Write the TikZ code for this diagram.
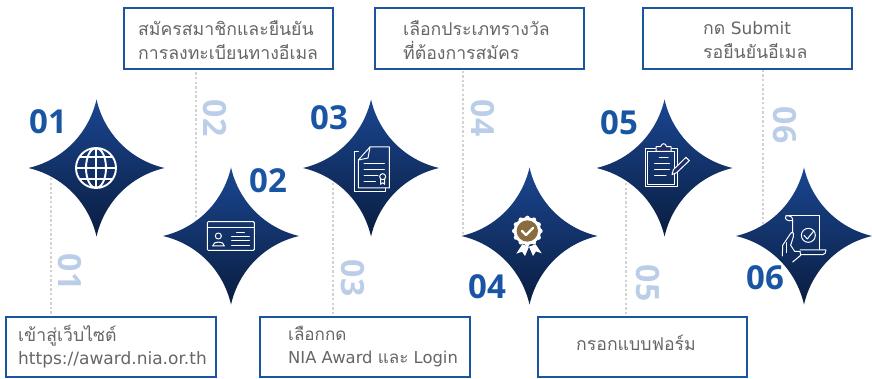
\documentclass[tikz,border=0pt]{standalone}
\usepackage{fontspec}
\setmainfont{DejaVu Sans}
\newfontfamily\thaifont[Script=Thai,Scale=1.04]{Loma}
\newfontfamily\numfont{Open Sans}
\usetikzlibrary{calc}
\definecolor{navy}{HTML}{1A55A3}
\definecolor{boxedge}{HTML}{1B559F}
\definecolor{fade}{HTML}{BBCEE8}
\definecolor{dotcol}{HTML}{D2D2D2}
\definecolor{ink}{HTML}{666666}
\definecolor{gold}{HTML}{8A6D3F}
\definecolor{startop}{HTML}{1A4690}
\definecolor{starmid}{HTML}{1F2C68}
\definecolor{starbot}{HTML}{0A1D40}
\tikzset{
  x=1pt,y=-1pt,
  boxst/.style={draw=boxedge,line width=2.4pt,fill=white,inner sep=0pt,anchor=north west},
  txt/.style={text=ink,align=left,inner sep=0pt,font=\fontsize{17}{23.5}\selectfont},
  bignum/.style={text=navy,inner sep=0pt,font=\numfont\bfseries\fontsize{33}{33}\selectfont},
  sidenum/.style={text=fade,inner sep=0pt,rotate=-90,font=\numfont\bfseries\fontsize{32}{32}\selectfont},
  dotline/.style={draw=dotcol,line width=2pt,dash pattern=on 2.4pt off 2.2pt},
  ic/.style={draw=white,line width=1pt,line join=round,line cap=round},
  icon/.style={x=0.3333pt,y=-0.3333pt},
  gemstar/.pic={
    \shade[top color=startop,middle color=starmid,bottom color=starbot]
      (0,-68.5) .. controls (8,-34) and (34,-8) .. (68,0)
      .. controls (34,8) and (8,34) .. (0,68.5)
      .. controls (-8,34) and (-34,8) .. (-68,0)
      .. controls (-34,-8) and (-8,-34) .. (0,-68.5) -- cycle;
  }
}
\begin{document}
\begin{tikzpicture}
\useasboundingbox (0,0) rectangle (872,379);
% boxes
\node[boxst,minimum width=210pt,minimum height=60pt] (b1) at (5,316) {};
\node[boxst,minimum width=209pt,minimum height=61pt] (b2) at (123,7) {};
\node[boxst,minimum width=210pt,minimum height=60pt] (b3) at (259,316) {};
\node[boxst,minimum width=209pt,minimum height=61pt] (b4) at (374,7) {};
\node[boxst,minimum width=209pt,minimum height=60pt] (b5) at (537,316) {};
\node[boxst,minimum width=209pt,minimum height=61pt] (b6) at (642,7) {};
% dotted connectors
\coordinate (d1) at (50.5,178);
\coordinate (d2) at (196,222);
\coordinate (d3) at (333,183);
\coordinate (d4) at (463,234);
\coordinate (d5) at (626,183);
\coordinate (d6) at (763,224);
\draw[dotline] (d1) -- (d1 |- b1.north);
\draw[dotline] (d2) -- (d2 |- b2.south);
\draw[dotline] (d3) -- (d3 |- b3.north);
\draw[dotline] (d4) -- (d4 |- b4.south);
\draw[dotline] (d5) -- (d5 |- b5.north);
\draw[dotline] (d6) -- (d6 |- b6.south);
% stars
\pic at (96.5,168) {gemstar};
\pic at (231,236) {gemstar};
\pic at (371,168) {gemstar};
\pic at (529.5,236) {gemstar};
\pic at (664.5,168) {gemstar};
\pic at (804,236) {gemstar};
% box texts
\node[txt,anchor=west] (t1) at (18,346.5) {{\thaifont เข้าสู่เว็บไซต์}\\https://award.nia.or.th};
\node[txt,anchor=west] (t2) at (138,40) {\thaifont สมัครสมาชิกและยืนยัน\\\thaifont การลงทะเบียนทางอีเมล};
\node[txt,anchor=west,font=\fontsize{16.4}{23.5}\selectfont] (t3) at (288,346.5) {{\thaifont เลือกกด}\\NIA Award {\thaifont และ} Login};
\node[txt,anchor=west] (t4) at (403,40) {\thaifont เลือกประเภทรางวัล\\\thaifont ที่ต้องการสมัคร};
\node[txt,anchor=west] (t5) at (576,343) {\thaifont กรอกแบบฟอร์ม};
\node[txt,anchor=west] (t6) at (703,40) {{\thaifont กด} Submit\\\thaifont รอยืนยันอีเมล};
% big numbers
\node[bignum] (n1) at (48,122) {01};
\node[bignum] (n2) at (268,181) {02};
\node[bignum] (n3) at (329,118) {03};
\node[bignum] (n4) at (487,287) {04};
\node[bignum] (n5) at (619,123) {05};
\node[bignum] (n6) at (765,278) {06};
% side numbers
\node[sidenum] (s1) at (70,272) {01};
\node[sidenum] (s2) at (215,118) {02};
\node[sidenum] (s3) at (353,278) {03};
\node[sidenum] (s4) at (483,118) {04};
\node[sidenum] (s5) at (648,283) {05};
\node[sidenum] (s6) at (785,125) {06};
% icon 1: globe
\begin{scope}[shift={(66,138)},icon]
  \begin{scope}[ic,line width=1.9pt]
  \draw (90,90) circle[radius=60];
  \draw (90,90) ellipse[x radius=30,y radius=60];
  \draw (90,30) -- (90,150);
  \draw (30,90) -- (150,90);
  \draw (42,56) -- (138,56);
  \draw (42,124) -- (138,124);
  \end{scope}
\end{scope}
% icon 2: id card
\begin{scope}[shift={(200,206)},icon]
  \draw[ic,rounded corners=1pt] (22,47) rectangle (163,133);
  \draw[ic] (22,65) -- (163,65);
  \draw[ic] (55,90) circle[radius=9];
  \draw[ic] (38,120) .. controls (38,104) and (73,104) .. (73,120) -- cycle;
  \draw[ic] (110,80) -- (133,80);
  \draw[ic] (95,93) -- (148,93);
  \draw[ic] (95,105) -- (148,105);
  \draw[ic] (95,118) -- (148,118);
\end{scope}
% icon 3: certificate document
\begin{scope}[shift={(342,138)},icon]
  \draw[ic] (49,42) -- (37,42) -- (37,162) -- (130,162) -- (130,150);
  \draw[ic] (49,66) -- (84,27) -- (142,27) -- (142,150) -- (49,150) -- cycle;
  \draw[ic] (84,27) -- (78,60) -- (49,66);
  \draw[ic] (66,78) -- (127,78);
  \draw[ic] (66,96) -- (127,96);
  \draw[ic] (66,114) -- (108,114);
  \draw[ic] (66,132) -- (100,132);
  \draw[ic] (122,116) circle[radius=9];
  \draw[ic] (116,124) -- (116,139) -- (122,134) -- (128,139) -- (128,124);
\end{scope}
% icon 4: award badge
\begin{scope}[shift={(498,206)},icon]
  \fill[white] (73,115) -- (55,143) -- (72,137) -- (81,150) -- (93,122) -- cycle;
  \fill[white] (93,122) -- (105,150) -- (114,136) -- (131,142) -- (113,115) -- cycle;
  \fill[white] (88,75) circle[radius=41];
  \foreach \a in {0,30,...,330} \fill[white] (88,75) ++(\a:39) circle[radius=7];
  \fill[gold] (88,75) circle[radius=32];
  \draw[white,line width=2.4pt,line cap=round,line join=round] (72,75) -- (84,87) -- (105,66);
\end{scope}
% icon 5: clipboard
\begin{scope}[shift={(636,138)},icon]
  \draw[ic] (27,33) rectangle (124,147);
  \draw[ic] (35,41) rectangle (116,140);
  \draw[ic,fill=starmid] (60,40) -- (60,26) -- (74,26) .. controls (78,14) and (88,14) .. (92,26) -- (105,26) -- (105,40) -- cycle;
  \draw[ic] (70,60) -- (96,60);
  \draw[ic] (56,78) -- (100,78);
  \draw[ic] (56,96) -- (100,96);
  \draw[ic] (56,113) -- (90,113);
  \draw[ic,fill=starmid] (150,58) -- (160,68) -- (122,104) -- (108,110) -- (112,95) -- cycle;
\end{scope}
% icon 6: scroll and hand
\begin{scope}[shift={(776,206)},icon]
  \draw[ic] (30,30) -- (130,30) -- (130,130);
  \draw[ic] (30,30) .. controls (24,40) and (34,46) .. (50,44) -- (50,80);
  \draw[ic] (30,30) .. controls (45,28) and (50,34) .. (50,44);
  \draw[ic] (97,88) circle[radius=21];
  \draw[ic] (84,88) -- (94,99) -- (114,74);
  \draw[ic] (72,132) -- (150,132) .. controls (150,140) and (146,146) .. (140,146) -- (75,146);
  \draw[ic] (19,150) -- (20,118) -- (44,82) .. controls (50,74) and (54,82) .. (52,92) -- (44,118);
  \draw[ic] (44,118) -- (56,136) -- (72,136) -- (74,148) -- (50,168);
  \draw[ic] (32,110) -- (32,140);
\end{scope}
\end{tikzpicture}
\end{document}
